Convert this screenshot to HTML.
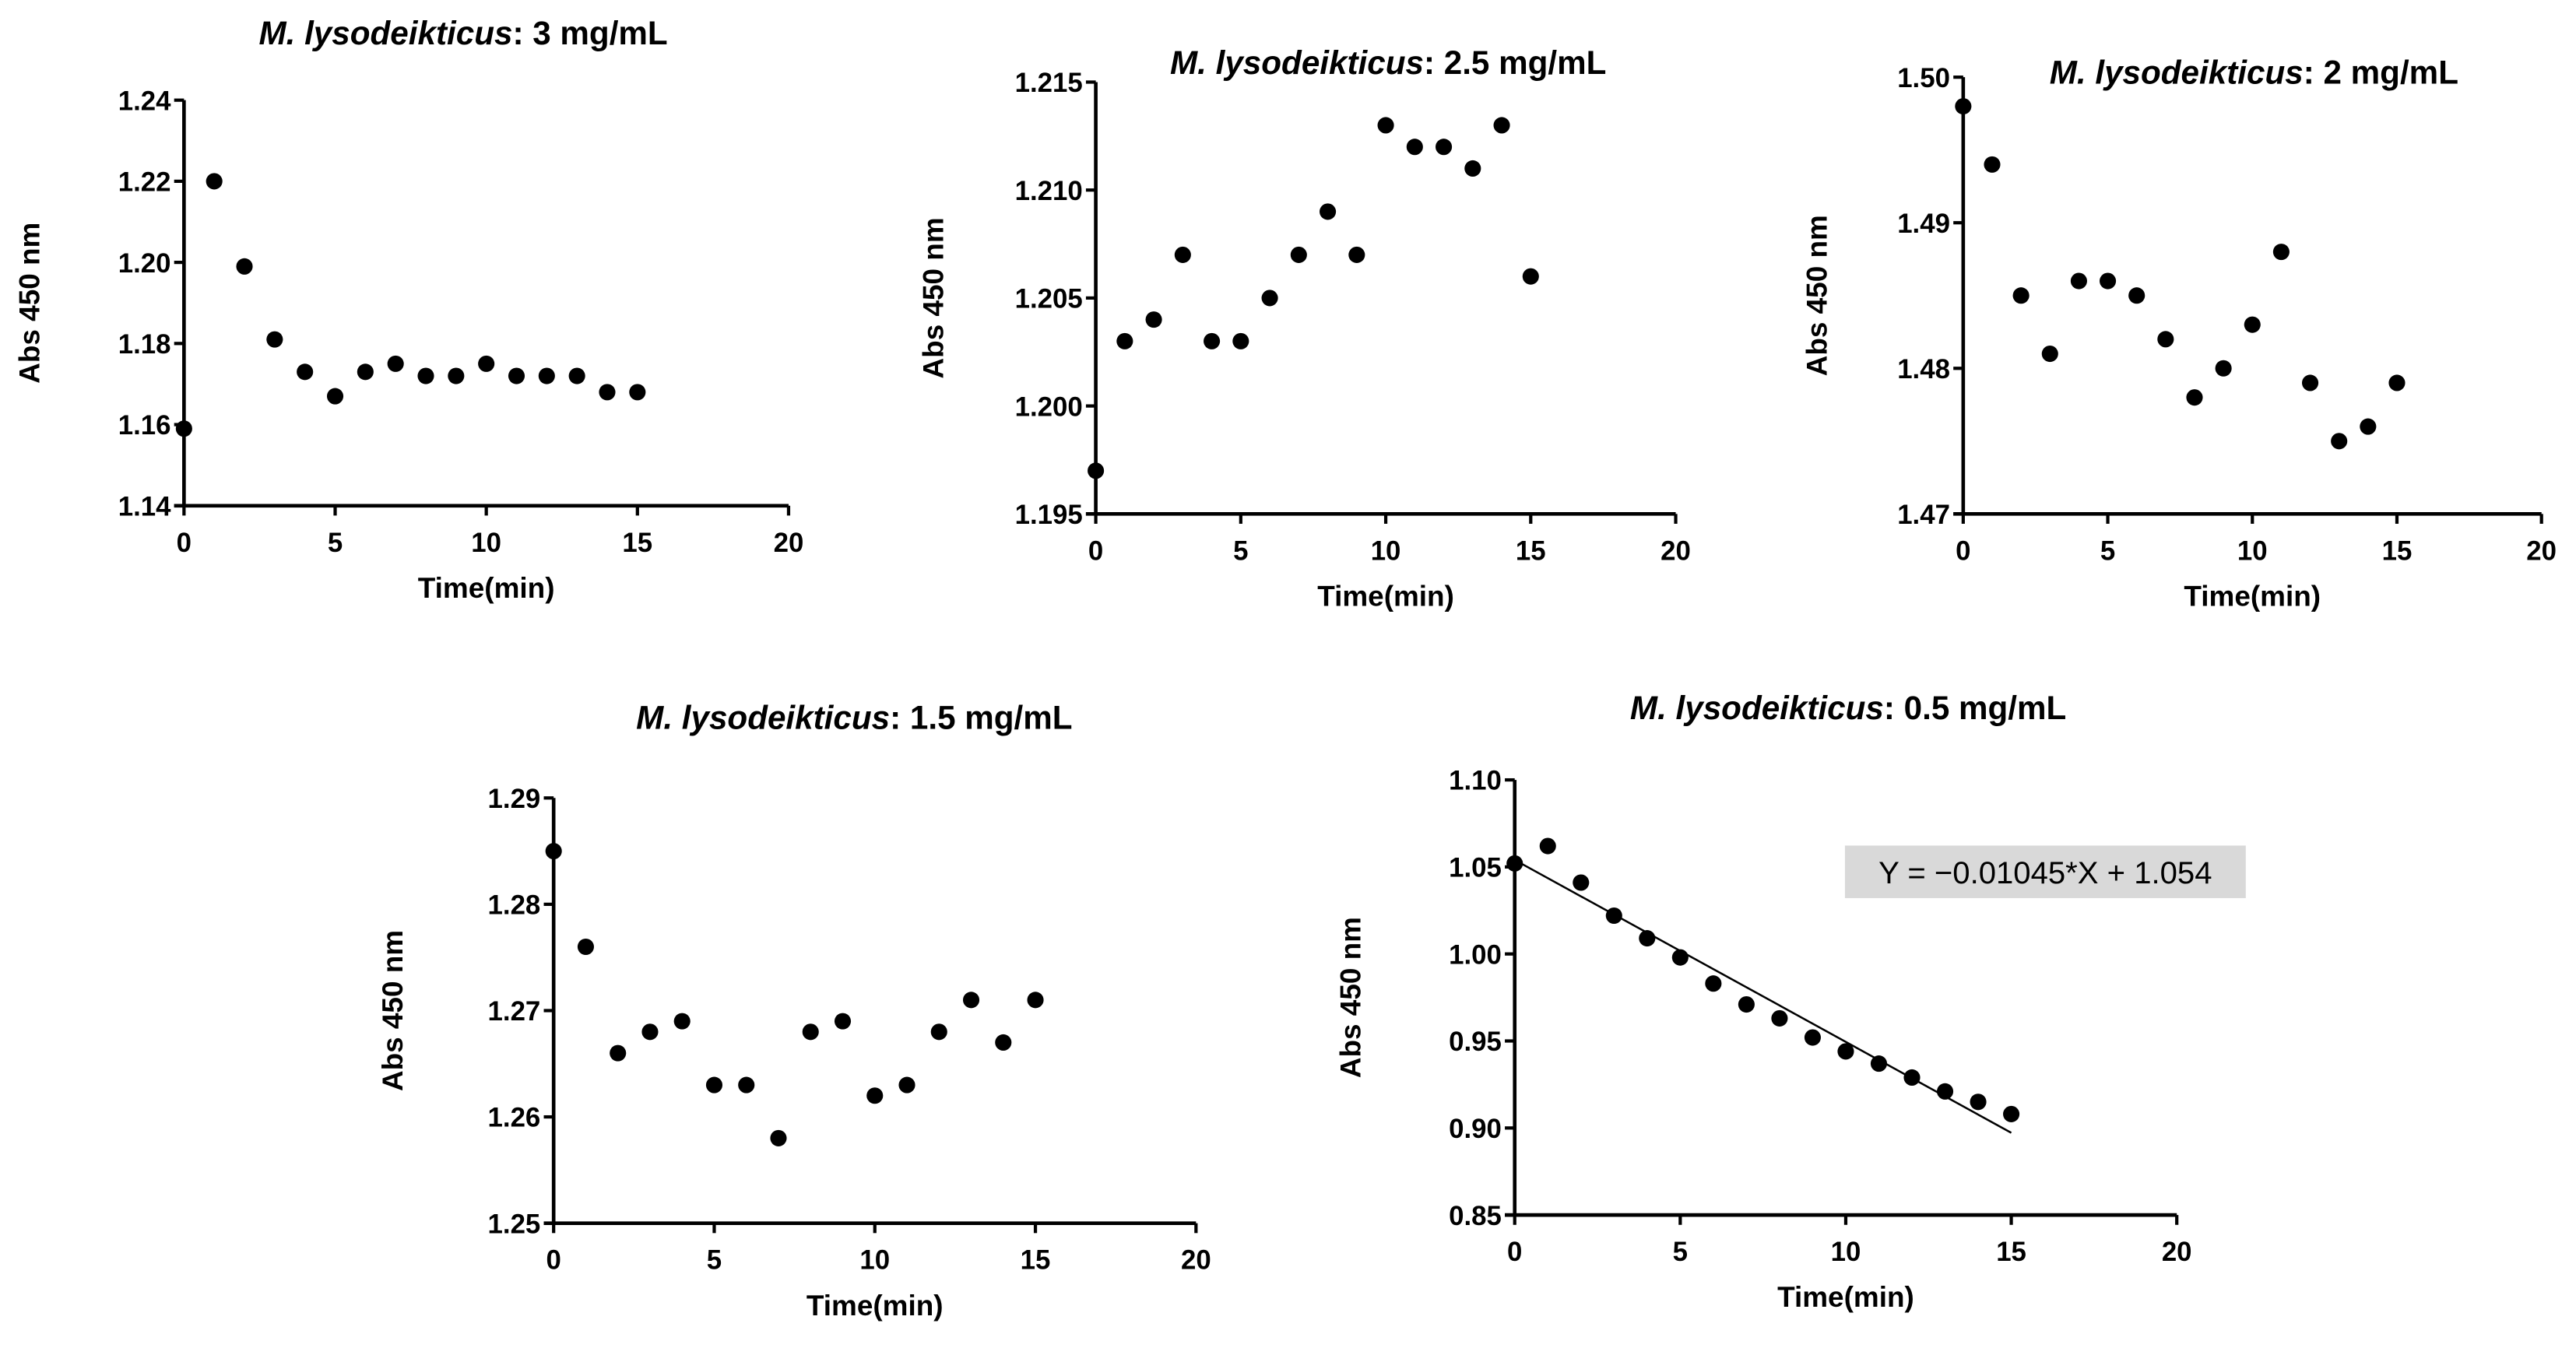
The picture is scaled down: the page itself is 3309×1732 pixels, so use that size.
<!DOCTYPE html>
<html><head><meta charset="utf-8">
<style>html,body{margin:0;padding:0;background:#fff;}svg{display:block;}text{font-family:"Liberation Sans",sans-serif;font-weight:bold;fill:#000;}</style>
</head><body>
<svg id="fig" width="3309" height="1732" viewBox="0 0 1568 821" preserveAspectRatio="none" xmlns="http://www.w3.org/2000/svg"></svg>
<script>
const timeValues=[0,1,2,3,4,5,6,7,8,9,10,11,12,13,14,15];
const xTicks=[0,5,10,15,20];
const abs3=[1.159,1.220,1.199,1.181,1.173,1.167,1.173,1.175,1.172,1.172,1.175,1.172,1.172,1.172,1.168,1.168];
const abs25=[1.197,1.203,1.204,1.207,1.203,1.203,1.205,1.207,1.209,1.207,1.213,1.212,1.212,1.211,1.213,1.206];
const abs2=[1.498,1.494,1.485,1.481,1.486,1.486,1.485,1.482,1.478,1.480,1.483,1.488,1.479,1.475,1.476,1.479];
const abs15=[1.285,1.276,1.266,1.268,1.269,1.263,1.263,1.258,1.268,1.269,1.262,1.263,1.268,1.271,1.267,1.271];
const abs05=[1.052,1.062,1.041,1.022,1.009,0.998,0.983,0.971,0.963,0.952,0.944,0.937,0.929,0.921,0.915,0.908];
const yTicks3=["1.14","1.16","1.18","1.20","1.22","1.24"];
const yTicks25=["1.195","1.200","1.205","1.210","1.215"];
const yTicks2=["1.47","1.48","1.49","1.50"];
const yTicks15=["1.25","1.26","1.27","1.28","1.29"];
const yTicks05=["0.85","0.90","0.95","1.00","1.05","1.10"];
const fitSlope=-0.01045, fitIntercept=1.054;

const NS="http://www.w3.org/2000/svg";
const svg=document.getElementById('fig');
function mk(tag,attrs,parent,txt){const e=document.createElementNS(NS,tag);for(const k in attrs)e.setAttribute(k,attrs[k]);if(txt!==undefined)e.textContent=txt;(parent||svg).appendChild(e);return e;}

function chart(name,cfg,vals,yt){
  const g=mk('g',{});
  
  
  const ymin=parseFloat(yt[0]),ymax=parseFloat(yt[yt.length-1]);
  const X=v=>cfg.x0+(v-0)/(20-0)*(cfg.x1-cfg.x0);
  const Y=v=>cfg.y0+(v-ymin)/(ymax-ymin)*(cfg.y1-cfg.y0);
  const t=mk('text',{x:cfg.tx,y:cfg.ty,'text-anchor':'middle','font-size':20},g);
  
  
  mk('tspan',{'font-style':'italic'},t,'M. lysodeikticus');
  mk('tspan',{},t,cfg.sub);
  const ya=mk('line',{x1:cfg.x0,y1:cfg.y0,x2:cfg.x0,y2:cfg.y1,stroke:'#000','stroke-width':2.2},g);
  
  
  const xa=mk('line',{x1:cfg.x0-6,y1:cfg.y0,x2:cfg.x1,y2:cfg.y0,stroke:'#000','stroke-width':2.2},g);
  
  
  yt.forEach(s=>{const v=parseFloat(s),y=Y(v);
    mk('line',{x1:cfg.x0-6,y1:y,x2:cfg.x0,y2:y,stroke:'#000','stroke-width':2},g);
    const l=mk('text',{x:cfg.x0-8,y:y+6,'text-anchor':'end','font-size':16.5},g,s);
    
    
  });
  xTicks.forEach(v=>{const x=X(v);
    mk('line',{x1:x,y1:cfg.y0,x2:x,y2:cfg.y0+6,stroke:'#000','stroke-width':2},g);
    const l=mk('text',{x:x,y:cfg.y0+28,'text-anchor':'middle','font-size':16.5},g,String(v));
    
    
  });
  const xl=mk('text',{x:(cfg.x0+cfg.x1)/2+(cfg.xlo||0),y:cfg.y0+56,'text-anchor':'middle','font-size':17.5},g,'Time(min)');
  
  
  const cy=(cfg.y0+cfg.y1)/2;
  const yl=mk('text',{x:cfg.ylx,y:cy,'text-anchor':'middle','font-size':17.5,transform:`rotate(-90 ${cfg.ylx} ${cy})`},g,'Abs 450 nm');
  
  
  if(cfg.fit){
    const fl=mk('line',{x1:X(0),y1:Y(fitIntercept),x2:X(15),y2:Y(fitIntercept+fitSlope*15),stroke:'#000','stroke-width':1.2},g);
    
    
    const bx=mk('rect',{x:1123,y:515,width:244,height:32,fill:'#d9d9d9'},g);
    
    
    const et=mk('text',{x:1245,y:538,'text-anchor':'middle','font-size':19,style:'font-weight:normal'},g,'Y = \u22120.01045*X + 1.054');
    
    
  }
  vals.forEach((v,i)=>{
    const c=mk('circle',{cx:X(timeValues[i]),cy:Y(v),r:5,fill:'#000'},g);
    
    
  });
}
chart('chart-3mg',{x0:112,x1:480,y0:308,y1:61,tx:282,ty:27,sub:': 3 mg/mL',ylx:24},abs3,yTicks3);
chart('chart-2-5mg',{x0:667,x1:1020,y0:313,y1:50,tx:845,ty:45,sub:': 2.5 mg/mL',ylx:574},abs25,yTicks25);
chart('chart-2mg',{x0:1195,x1:1547,y0:313,y1:47,tx:1372,ty:51,sub:': 2 mg/mL',ylx:1112},abs2,yTicks2);
chart('chart-1-5mg',{x0:337,x1:728,y0:745,y1:486,tx:520,ty:444,sub:': 1.5 mg/mL',ylx:245},abs15,yTicks15);
chart('chart-0-5mg',{x0:922,x1:1325,y0:740,y1:475,tx:1125,ty:438,sub:': 0.5 mg/mL',ylx:828,fit:true},abs05,yTicks05);
</script>
</body></html>
